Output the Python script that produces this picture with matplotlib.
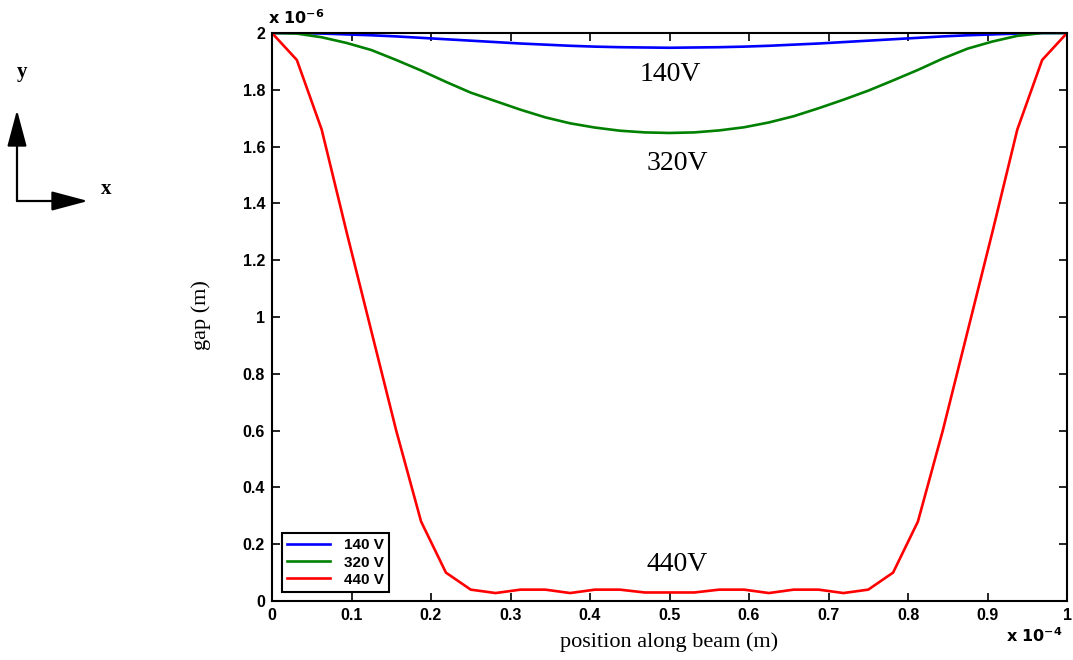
import numpy as np
import matplotlib
matplotlib.use("Agg")
import matplotlib.pyplot as plt
from matplotlib.patches import FancyArrowPatch
from matplotlib.ticker import FuncFormatter

# position along beam, in units of 1e-4 m (33 nodes)
x_pos = [k / 32 for k in range(33)]

# gap, in units of 1e-6 m
gap_140 = [2.0, 2.0, 1.998, 1.995, 1.992, 1.988, 1.983, 1.978, 1.973, 1.968, 1.963,
           1.959, 1.955, 1.952, 1.950, 1.949, 1.948, 1.949, 1.950, 1.952, 1.955, 1.959,
           1.963, 1.968, 1.973, 1.978, 1.983, 1.988, 1.992, 1.995, 1.998, 2.0, 2.0]
gap_320 = [2.0, 1.998, 1.985, 1.965, 1.94, 1.905, 1.868, 1.828, 1.79, 1.76, 1.73,
           1.703, 1.682, 1.667, 1.656, 1.65, 1.648, 1.65, 1.657, 1.668, 1.685, 1.707,
           1.735, 1.765, 1.797, 1.833, 1.87, 1.91, 1.945, 1.97, 1.99, 2.0, 2.0]
gap_440 = [2.0, 1.905, 1.66, 1.30, 0.95, 0.60, 0.28, 0.10, 0.04, 0.028, 0.04,
           0.04, 0.028, 0.04, 0.04, 0.03, 0.03, 0.03, 0.04, 0.04, 0.028, 0.04,
           0.04, 0.028, 0.04, 0.10, 0.28, 0.60, 0.95, 1.30, 1.66, 1.905, 2.0]

series = [("140 V", gap_140, "#0000ff"),
          ("320 V", gap_320, "#008000"),
          ("440 V", gap_440, "#ff0000")]

curve_labels = [("140V", 0.501, 1.855), ("320V", 0.51, 1.542), ("440V", 0.51, 0.127)]


def main():
    fig = plt.figure(figsize=(10.73, 6.6), dpi=100)
    ax = fig.add_axes([272 / 1073, 59 / 660, 795 / 1073, 568 / 660])

    for name, vals, color in series:
        ax.plot(x_pos, vals, color=color, lw=1.9, label=name)

    ax.set_xlim(0, 1)
    ax.set_ylim(0, 2)
    ax.set_xticks(np.arange(0, 1.01, 0.1))
    ax.set_yticks(np.arange(0, 2.01, 0.2))
    fmt = FuncFormatter(lambda v, p: "%g" % round(v, 2))
    ax.xaxis.set_major_formatter(fmt)
    ax.yaxis.set_major_formatter(fmt)
    ax.tick_params(direction="in", length=6, width=1.2, top=True, right=True,
                   labelsize=11.5, pad=5)
    for lab in ax.get_xticklabels() + ax.get_yticklabels():
        lab.set_fontweight("bold")
        lab.set_family("Liberation Sans")
    for sp in ax.spines.values():
        sp.set_linewidth(1.5)

    ax.set_xlabel("position along beam (m)", family="Liberation Serif", fontsize=16)
    ax.set_ylabel("gap (m)", family="Liberation Serif", fontsize=16)
    ax.xaxis.set_label_coords(0.5, -0.055)
    ax.yaxis.set_label_coords(-0.077, 0.5035)

    ax.text(-0.005, 1.01, r"$\mathbf{x\ 10^{-6}}$", transform=ax.transAxes,
            fontsize=11.5, ha="left", va="bottom")
    ax.text(0.995, -0.045, r"$\mathbf{x\ 10^{-4}}$", transform=ax.transAxes,
            fontsize=11.5, ha="right", va="top")

    for txt, tx, ty in curve_labels:
        ax.text(tx, ty, txt, family="Liberation Serif", fontsize=20,
                ha="center", va="center")

    leg = ax.legend(loc="lower left", bbox_to_anchor=(0.0125, 0.016), borderaxespad=0,
                    fancybox=False, edgecolor="black", framealpha=1,
                    prop={"family": "Liberation Sans", "weight": "bold", "size": 11},
                    handlelength=2.8, labelspacing=0.2, borderpad=0.35,
                    handletextpad=0.9)
    leg.get_frame().set_linewidth(1.5)

    # coordinate axes sketch on the left
    W, H = 1073, 660
    corner = (17 / W, 1 - 201 / H)
    fig.add_artist(FancyArrowPatch(corner, (17 / W, 1 - 110 / H), transform=fig.transFigure,
                                   arrowstyle="-|>,head_length=1.5,head_width=0.4",
                                   mutation_scale=15, lw=1.6, color="black",
                                   shrinkA=0, shrinkB=0))
    fig.add_artist(FancyArrowPatch(corner, (88 / W, 1 - 201 / H), transform=fig.transFigure,
                                   arrowstyle="-|>,head_length=1.5,head_width=0.4",
                                   mutation_scale=15, lw=1.6, color="black",
                                   shrinkA=0, shrinkB=0))
    fig.text(22 / W, 1 - 72 / H, "y", family="Liberation Serif", fontweight="bold",
             fontsize=15, ha="center", va="center")
    fig.text(106 / W, 1 - 189 / H, "x", family="Liberation Serif", fontweight="bold",
             fontsize=15, ha="center", va="center")

    fig.savefig("out.png", dpi=100)
    plt.close(fig)


if __name__ == "__main__":
    main()
